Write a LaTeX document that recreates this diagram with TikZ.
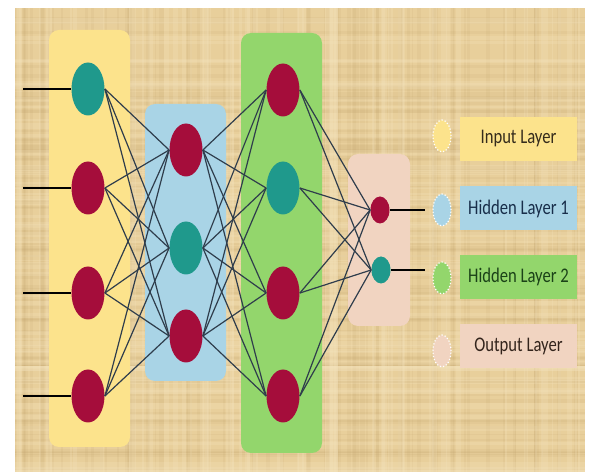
\documentclass[tikz,border=0pt]{standalone}
\usepackage{fontspec}
\usepackage{xcolor}
\usepackage{tikz}
\usetikzlibrary{positioning,shapes.geometric}
\newfontfamily\keyfont[FakeStretch=0.8]{Carlito}
\definecolor{paper}{HTML}{E8CF9B}
\definecolor{paperdark}{HTML}{BFA06A}
\definecolor{paperlight}{HTML}{F6E6C0}
\definecolor{yellowbg}{HTML}{FCE38C}
\definecolor{bluebg}{HTML}{A9D4E6}
\definecolor{greenbg}{HTML}{93D66C}
\definecolor{peachbg}{HTML}{F1D4C1}
\definecolor{crimsonx}{HTML}{A50D3B}
\definecolor{tealx}{HTML}{1F998C}
\definecolor{wirex}{HTML}{2F3D4C}
\definecolor{inkyellow}{HTML}{352C1C}
\definecolor{inkblue}{HTML}{182E4A}
\definecolor{inkgreen}{HTML}{1B4218}
\definecolor{inkpeach}{HTML}{33241C}
\tikzset{
  neuron/.style={ellipse,inner sep=0pt,minimum width=16.5pt,minimum height=26.5pt},
  outneuron/.style={ellipse,inner sep=0pt,minimum width=9.5pt,minimum height=13.5pt},
  wire/.style={draw=wirex,line width=0.6pt},
  feedin/.style={draw=black,line width=1.4pt},
  feedout/.style={draw=black,line width=0.7pt},
  layerbox/.style={rounded corners=5pt},
  keydot/.style={ellipse,draw=white,densely dotted,line width=0.6pt,minimum width=9pt,minimum height=16pt,inner sep=0pt},
  keybox/.style={minimum width=58.5pt,minimum height=22pt,inner sep=0pt,font=\keyfont\fontsize{10.4}{12}\selectfont}
}

\begin{document}
\begin{tikzpicture}[x=0.5pt,y=0.5pt]
\useasboundingbox (0,0) rectangle (590,472);
% parchment with a woven look
\fill[paper] (15,0) rectangle (585,464);
\begin{scope}
\clip (15,0) rectangle (585,464);
\pgfmathsetseed{11}
\foreach \i in {1,...,80}{
  \pgfmathsetmacro\xx{15+570*rnd}
  \pgfmathsetmacro\yy{464*rnd}
  \pgfmathsetmacro\ww{0.6+1.8*rnd}
  \draw[paperdark,opacity=0.12,line width=\ww pt] (\xx,0) -- (\xx,464);
  \draw[paperdark,opacity=0.12,line width=\ww pt] (15,\yy) -- (585,\yy);}
\foreach \i in {1,...,60}{
  \pgfmathsetmacro\xx{15+570*rnd}
  \pgfmathsetmacro\yy{464*rnd}
  \pgfmathsetmacro\ww{0.8+2.4*rnd}
  \draw[paperlight,opacity=0.22,line width=\ww pt] (\xx,0) -- (\xx,464);
  \draw[paperlight,opacity=0.22,line width=\ww pt] (15,\yy) -- (585,\yy);}
\end{scope}

% layer panels
\fill[yellowbg,layerbox] (49,25) rectangle (130,442);
\fill[bluebg,layerbox] (145,91) rectangle (226,368);
\fill[greenbg,layerbox] (241,19) rectangle (322,439);
\fill[peachbg,layerbox] (348,146) rectangle (410,318);

% input layer
\node[neuron,fill=tealx] (i1) at (88,383) {};
\node[neuron,fill=crimsonx] (i2) at (88,284) {};
\node[neuron,fill=crimsonx] (i3) at (88,179) {};
\node[neuron,fill=crimsonx] (i4) at (88,76) {};
% hidden layer 1
\node[neuron,fill=crimsonx] (h1) at (186,322) {};
\node[neuron,fill=tealx] (h2) at (186,224) {};
\node[neuron,fill=crimsonx] (h3) at (186,136) {};
% hidden layer 2
\node[neuron,fill=crimsonx] (g1) at (283,382) {};
\node[neuron,fill=tealx] (g2) at (283,284) {};
\node[neuron,fill=crimsonx] (g3) at (283,179) {};
\node[neuron,fill=crimsonx] (g4) at (283,76) {};
% output layer
\node[outneuron,fill=crimsonx] (o1) at (380,262) {};
\node[outneuron,fill=tealx] (o2) at (381,202) {};

% full connections
\foreach \a in {1,...,4}
  \foreach \b in {1,...,3}
    \draw[wire] (i\a.east) -- (h\b.west);
\foreach \a in {1,...,3}
  \foreach \b in {1,...,4}
    \draw[wire] (h\a.east) -- (g\b.west);
\foreach \a in {1,...,4}
  \foreach \b in {1,2}
    \draw[wire] (g\a.east) -- (o\b.west);

% inputs and outputs
\foreach \k/\y in {1/383,2/284,3/179,4/76}{
  \coordinate (s\k) at (23,\y);
  \draw[feedin] (s\k) -- (i\k.west);}
\coordinate (t1) at (425,262);
\coordinate (t2) at (425,202);
\draw[feedout] (o1.east) -- (t1);
\draw[feedout] (o2.east) -- (t2);

% key
\node[keydot,fill=yellowbg] (d1) at (442,336) {};
\node[keydot,fill=bluebg] (d2) at (442,262) {};
\node[keydot,fill=greenbg] (d3) at (442,194) {};
\node[keydot,fill=peachbg] (d4) at (442,121) {};
\node[keybox,fill=yellowbg,text=inkyellow] (k1) at (518.5,333) {Input Layer};
\node[keybox,fill=bluebg,text=inkblue] (k2) at (518.5,263.5) {Hidden Layer 1};
\node[keybox,fill=greenbg,text=inkgreen] (k3) at (518.5,195) {Hidden Layer 2};
\node[keybox,fill=peachbg,text=inkpeach] (k4) at (518.5,126) {Output Layer};
\end{tikzpicture}
\end{document}
